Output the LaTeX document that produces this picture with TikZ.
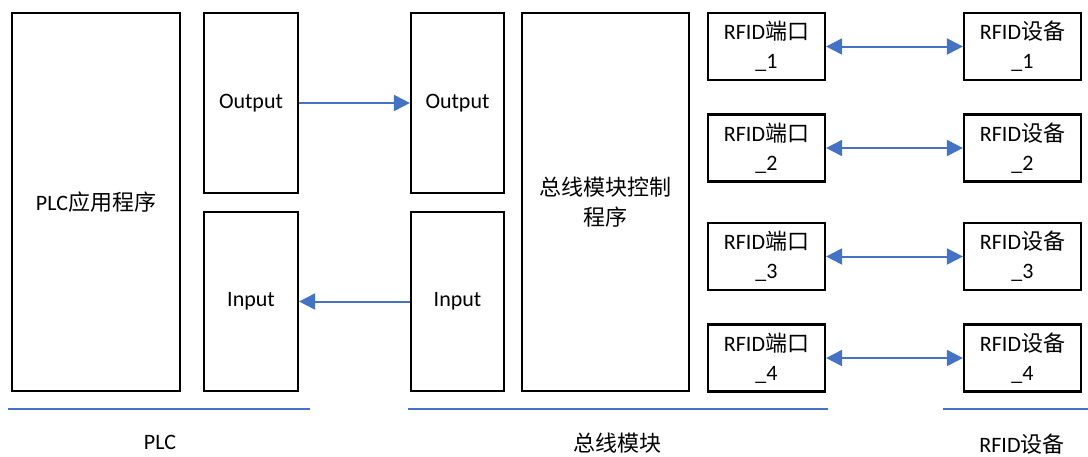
\documentclass[tikz,border=0pt]{standalone}
\usepackage{fontspec}
\setmainfont{Carlito}
\newfontfamily\cjk{Noto Sans CJK SC}
\usetikzlibrary{arrows.meta}
\definecolor{lineblue}{HTML}{4472C4}
\tikzset{
  box/.style={draw=black, line width=2.2pt, rectangle, inner sep=0pt, align=center,
    font=\fontsize{22}{29}\selectfont},
  conn/.style={draw=lineblue, line width=2pt, -{Triangle[length=16pt,width=16pt]}},
  biconn/.style={draw=lineblue, line width=2pt, {Triangle[length=16pt,width=16pt]}-{Triangle[length=16pt,width=16pt]}},
  groupline/.style={draw=lineblue, line width=2pt},
  grouplabel/.style={font=\fontsize{22}{29}\selectfont, inner sep=0pt}
}
\begin{document}
\begin{tikzpicture}[x=1pt,y=-1pt]
\useasboundingbox (0,0) rectangle (1088,456);
\node[box, minimum width=168pt, minimum height=378pt] (plc) at (96,202) {PLC{\cjk 应用程序}};
\node[box, minimum width=94pt, minimum height=180pt] (out1) at (251,103) {Output};
\node[box, minimum width=94pt, minimum height=179pt] (in1) at (251,301.5) {Input};
\node[box, minimum width=93pt, minimum height=180pt] (out2) at (457.5,103) {Output};
\node[box, minimum width=93pt, minimum height=179pt] (in2) at (457.5,301.5) {Input};
\node[box, minimum width=167pt, minimum height=378pt, font=\fontsize{22}{30}\selectfont] (ctl) at (605.5,202) {{\cjk 总线模块控制}\\{\cjk 程序}};
\foreach \i/\y in {1/46.5, 2/148, 3/256.5, 4/358} {
  \node[box, minimum width=117pt, minimum height=67pt] (port\i) at (766.5,\y) {RFID{\cjk 端口}\\\_\i};
  \node[box, minimum width=117pt, minimum height=67pt] (dev\i) at (1022.5,\y) {RFID{\cjk 设备}\\\_\i};
  \draw[biconn] (port\i.east) -- (dev\i.west);
}
\draw[conn] (out1.east) -- (out2.west);
\draw[conn] (in2.west) -- (in1.east);
\coordinate (l1a) at (8,409); \coordinate (l1b) at (310,409);
\coordinate (l2a) at (408,409); \coordinate (l2b) at (828,409);
\coordinate (l3a) at (943,409); \coordinate (l3b) at (1088,409);
\draw[groupline] (l1a) -- (l1b);
\draw[groupline] (l2a) -- (l2b);
\draw[groupline] (l3a) -- (l3b);
\node[grouplabel] (lplc) at (160,442) {PLC};
\node[grouplabel] (lbus) at (617,443) {\cjk 总线模块};
\node[grouplabel] (ldev) at (1022,444) {RFID{\cjk 设备}};
\end{tikzpicture}
\end{document}
